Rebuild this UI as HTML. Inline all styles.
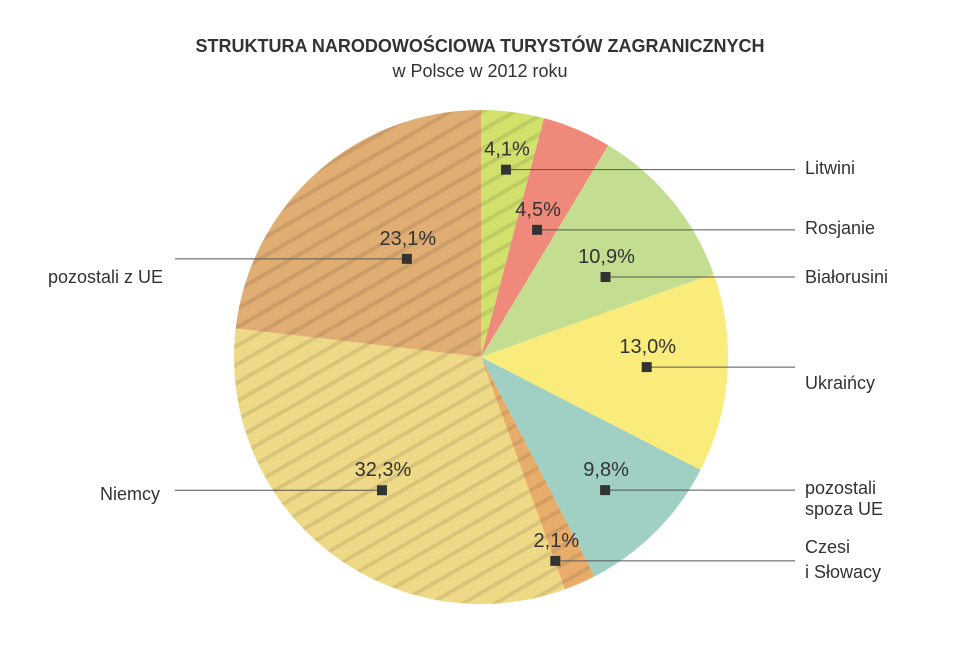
<!DOCTYPE html>
<html><head><meta charset="utf-8"><style>
body{margin:0;background:#fff;}
svg text{font-family:"Liberation Sans",sans-serif;}
</style></head><body>
<svg width="960" height="640" viewBox="0 0 960 640">
<defs>
<pattern id="hatch" width="16" height="16" patternUnits="userSpaceOnUse" patternTransform="rotate(-30)">
<rect x="0" y="0" width="16" height="4" fill="#000" fill-opacity="0.09"/>
</pattern>
</defs>
<text x="480" y="52" text-anchor="middle" font-size="18" font-weight="bold" fill="#333">STRUKTURA NARODOWOŚCIOWA TURYSTÓW ZAGRANICZNYCH</text>
<text x="480" y="77" text-anchor="middle" font-size="18" fill="#333">w Polsce w 2012 roku</text>
<g id="slices"></g>
<g id="labels"></g>
</svg>
<script>
const categories=["Litwini","Rosjanie","Białorusini","Ukraińcy","pozostali spoza UE","Czesi i Słowacy","Niemcy","pozostali z UE"];
const values=[4.1,4.5,10.9,13.0,9.8,2.1,32.3,23.1];
const valueLabels=["4,1%","4,5%","10,9%","13,0%","9,8%","2,1%","32,3%","23,1%"];
const colors=["#d2e06c","#ef8a7a","#c4de91","#f9ec7a","#a0d0c4","#e9ad6b","#eed986","#e0ad73"];
const hatched=[true,false,false,false,false,true,true,true];
// layout: marker offset from slice mid-angle (deg) and radius
const markerDAng=[0.2,0.9,6.6,-0.3,2.1,3.6,-1.8,4.6];
const markerR=[189,139,148,166,182,217,166,123];
const nameX=[805,805,805,805,805,805,160,163];
const nameY=[[168],[228],[277],[383],[488,509],[547,572],[494],[277]];
const lineY=[170,230,277,383,494,558,494,277];
const cx=481,cy=357,R=247;
const NS="http://www.w3.org/2000/svg";
const total=values.reduce((a,b)=>a+b,0);
function pt(a,r){const t=a*Math.PI/180;return [cx+r*Math.sin(t),cy-r*Math.cos(t)];}
const gs=document.getElementById('slices'),gl=document.getElementById('labels');
let acc=0;
values.forEach((v,i)=>{
  const a0=acc/total*360,a1=(acc+v)/total*360;acc+=v;
  const p0=pt(a0,R),p1=pt(a1,R);
  const d=`M${cx},${cy}L${p0[0]},${p0[1]}A${R},${R} 0 ${a1-a0>180?1:0} 1 ${p1[0]},${p1[1]}Z`;
  const p=document.createElementNS(NS,'path');p.setAttribute('d',d);p.setAttribute('fill',colors[i]);
  
  
  gs.appendChild(p);
  if(hatched[i]){const h=document.createElementNS(NS,'path');h.setAttribute('d',d);h.setAttribute('fill','url(#hatch)');
    
    
    gs.appendChild(h);}
  const m=pt((a0+a1)/2+markerDAng[i],markerR[i]);
  const right=nameX[i]>480;
  const ln=document.createElementNS(NS,'line');
  ln.setAttribute('x1',m[0]);ln.setAttribute('y1',m[1]);ln.setAttribute('x2',right?795:175);ln.setAttribute('y2',m[1]);
  ln.setAttribute('stroke','#555');ln.setAttribute('stroke-width','1');
  
  
  gl.appendChild(ln);
  const r=document.createElementNS(NS,'rect');
  r.setAttribute('x',m[0]-5);r.setAttribute('y',m[1]-5);r.setAttribute('width',10);r.setAttribute('height',10);r.setAttribute('fill','#333');
  
  
  gl.appendChild(r);
  const t=document.createElementNS(NS,'text');
  t.setAttribute('x',m[0]+1);t.setAttribute('y',m[1]-14);t.setAttribute('text-anchor','middle');t.setAttribute('font-size','20');t.setAttribute('fill','#333');
  t.textContent=valueLabels[i];
  
  
  gl.appendChild(t);
  const words=nameY[i].length>1?(i===4?["pozostali","spoza UE"]:["Czesi","i Słowacy"]):[categories[i]];
  words.forEach((w,k)=>{
    const n=document.createElementNS(NS,'text');
    n.setAttribute('x',nameX[i]);n.setAttribute('y',nameY[i][k]+6);
    n.setAttribute('text-anchor',right?'start':'end');n.setAttribute('font-size','18');n.setAttribute('fill','#333');
    n.textContent=w;
    
    
    gl.appendChild(n);
  });
});
</script>
</body></html>
